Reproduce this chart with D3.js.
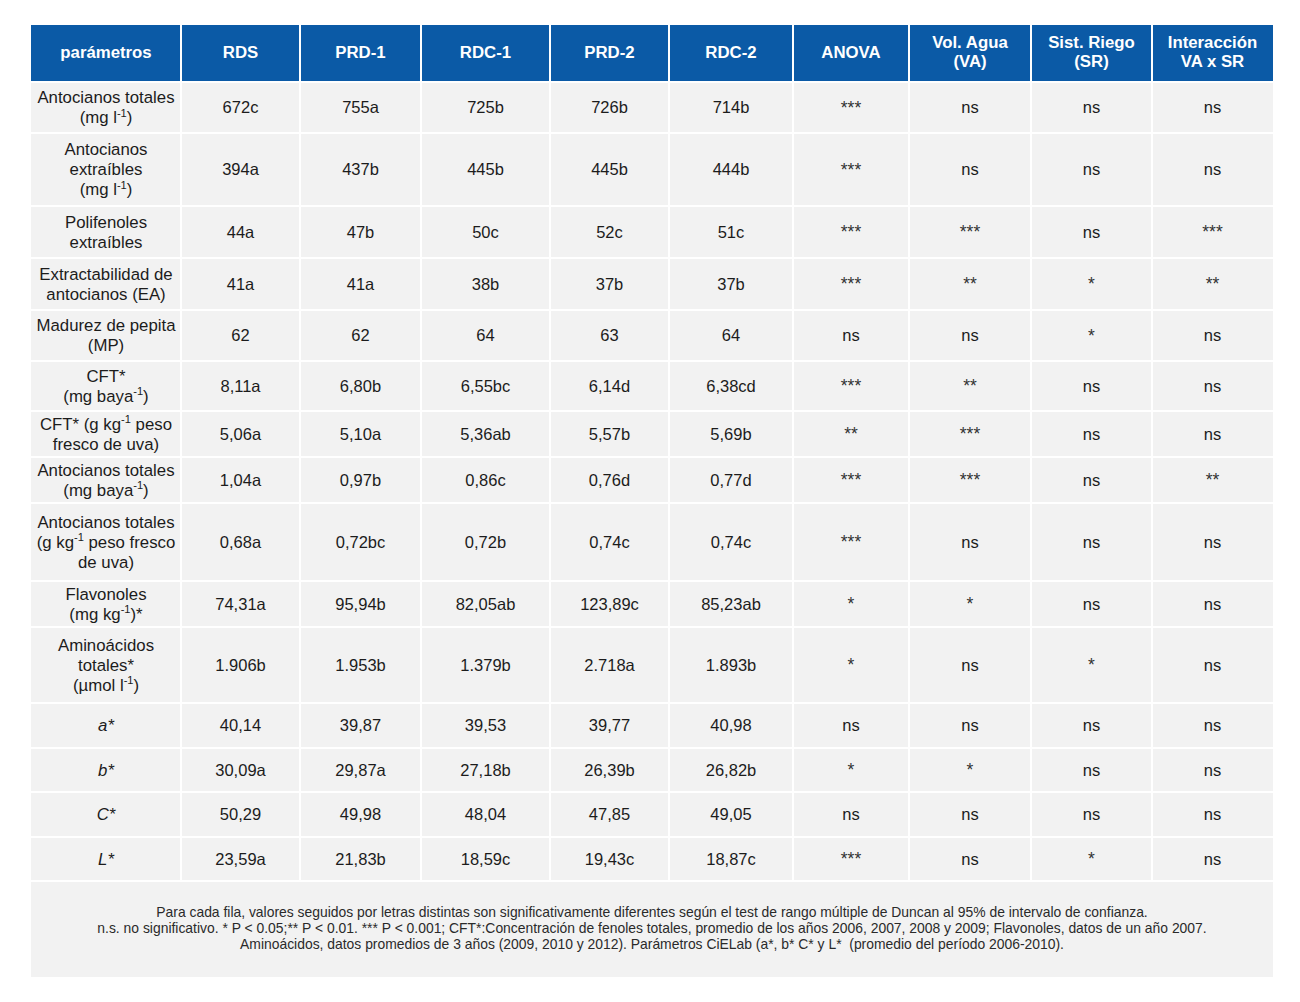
<!DOCTYPE html>
<html><head><meta charset="utf-8">
<script src="https://cdn.jsdelivr.net/npm/d3@7"></script>
<style>html,body{margin:0;padding:0;background:#fff;} text{white-space:pre;}</style>
</head><body>
<svg id="chart" width="1300" height="1002"></svg>
<script>
// ---------- DATA ----------
const headers = [["parámetros"],["RDS"],["PRD-1"],["RDC-1"],["PRD-2"],["RDC-2"],["ANOVA"],["Vol. Agua","(VA)"],["Sist. Riego","(SR)"],["Interacción","VA x SR"]];
const params = [
  ["Antocianos totales","(mg l{-1})"],
  ["Antocianos","extraíbles","(mg l{-1})"],
  ["Polifenoles","extraíbles"],
  ["Extractabilidad de","antocianos (EA)"],
  ["Madurez de pepita","(MP)"],
  ["CFT*","(mg baya{-1})"],
  ["CFT* (g kg{-1} peso","fresco de uva)"],
  ["Antocianos totales","(mg baya{-1})"],
  ["Antocianos totales","(g kg{-1} peso fresco","de uva)"],
  ["Flavonoles","(mg kg{-1})*"],
  ["Aminoácidos","totales*","(µmol l{-1})"],
  ["a*"],["b*"],["C*"],["L*"]
];
const italicParams = ["a*","b*","C*","L*"];
const RDS   = ["672c","394a","44a","41a","62","8,11a","5,06a","1,04a","0,68a","74,31a","1.906b","40,14","30,09a","50,29","23,59a"];
const PRD1  = ["755a","437b","47b","41a","62","6,80b","5,10a","0,97b","0,72bc","95,94b","1.953b","39,87","29,87a","49,98","21,83b"];
const RDC1  = ["725b","445b","50c","38b","64","6,55bc","5,36ab","0,86c","0,72b","82,05ab","1.379b","39,53","27,18b","48,04","18,59c"];
const PRD2  = ["726b","445b","52c","37b","63","6,14d","5,57b","0,76d","0,74c","123,89c","2.718a","39,77","26,39b","47,85","19,43c"];
const RDC2  = ["714b","444b","51c","37b","64","6,38cd","5,69b","0,77d","0,74c","85,23ab","1.893b","40,98","26,82b","49,05","18,87c"];
const ANOVA = ["***","***","***","***","ns","***","**","***","***","*","*","ns","*","ns","***"];
const VA    = ["ns","ns","***","**","ns","**","***","***","ns","*","ns","ns","*","ns","ns"];
const SR    = ["ns","ns","ns","*","*","ns","ns","ns","ns","ns","*","ns","ns","ns","*"];
const INT   = ["ns","ns","***","**","ns","ns","ns","**","ns","ns","ns","ns","ns","ns","ns"];
const footnote = [
  "Para cada fila, valores seguidos por letras distintas son significativamente diferentes según el test de rango múltiple de Duncan al 95% de intervalo de confianza.",
  "n.s. no significativo. * P < 0.05;** P < 0.01. *** P < 0.001; CFT*:Concentración de fenoles totales, promedio de los años 2006, 2007, 2008 y 2009; Flavonoles, datos de un año 2007.",
  "Aminoácidos, datos promedios de 3 años (2009, 2010 y 2012). Parámetros CiELab (a*, b* C* y L*  (promedio del período 2006-2010)."
];

// ---------- LAYOUT ----------
const colEdges = [31,181,300,421,550,669,793,909,1031,1152,1273];
const headerTop = 25, headerH = 57;
const rowHeights = [51,73,52,52,51,50,46,46,78,46,76,45,44,45,44];
const footH = 96;
const gap = 2;
const blue = "#0b5aa6", cellFill = "#f2f2f2", textCol = "#1c1c1c";
const FONT = "'Liberation Sans', Arial, Helvetica, sans-serif";

const columns = [params.map(p=>p), RDS, PRD1, RDC1, PRD2, RDC2, ANOVA, VA, SR, INT];

const svg = d3.select("#chart");
const x = d3.scaleOrdinal().domain(d3.range(10)).range(colEdges.slice(0,10));
const w = i => colEdges[i+1]-colEdges[i];
const rowTops = [];
let acc = headerTop + headerH;
rowHeights.forEach(h => { rowTops.push(acc); acc += h; });
const tableBottom = acc;
const y = d3.scaleOrdinal().domain(d3.range(rowHeights.length)).range(rowTops);

// write text lines with {sup} markup
function writeLines(sel, lines, cx, cy, opts) {
  const lh = opts.lh || 20;
  const n = lines.length;
  const t = sel.append("text")
    .attr("x", cx).attr("text-anchor","middle")
    .attr("font-family", FONT).attr("font-size", opts.size)
    .attr("font-weight", opts.weight || "normal")
    .attr("font-style", opts.italic ? "italic" : "normal")
    .attr("fill", opts.fill);
  lines.forEach((line, li) => {
    const baseY = cy - (n-1)*lh/2 + li*lh + (opts.base != null ? opts.base : opts.size*0.35);
    const parts = line.split(/(\{[^}]*\})/).filter(s=>s.length);
    let first = true, raised = false;
    parts.forEach(p => {
      const isSup = p.startsWith("{");
      const ts = t.append("tspan").text(isSup ? p.slice(1,-1) : p);
      if (first) { ts.attr("x", cx).attr("y", baseY); first = false; }
      if (isSup) {
        ts.attr("font-size", opts.size*0.66).attr("dy", raised ? 0 : -opts.size*0.4);
        raised = true;
      } else if (raised) {
        ts.attr("dy", opts.size*0.4); raised = false;
      }
    });
  });
}

// header
const hdr = svg.append("g");
headers.forEach((h,i) => {
  hdr.append("rect").attr("x", x(i)+ (i?1:0)).attr("y", headerTop)
    .attr("width", w(i) - (i?1:0) - (i<9?1:0)).attr("height", headerH - gap/2)
    .attr("fill", blue);
  writeLines(hdr, h, x(i)+w(i)/2, headerTop + headerH/2 - 1.5, {size:16.8, weight:"bold", fill:"#fff", lh:19});
});

// body
const body = svg.append("g");
rowHeights.forEach((rh, r) => {
  columns.forEach((col, c) => {
    body.append("rect")
      .attr("x", x(c) + (c?1:0)).attr("y", y(r) + 1)
      .attr("width", w(c) - (c?1:0) - (c<9?1:0)).attr("height", rh - gap)
      .attr("fill", cellFill);
    const v = col[r];
    const cy = y(r) + rh/2;
    if (c === 0) {
      writeLines(body, v, x(c)+w(c)/2, cy, {size:16.8, fill:textCol, italic: italicParams.includes(v[0])});
    } else if (/^\*+$/.test(v)) {
      writeLines(body, [v], x(c)+w(c)/2, cy, {size:17.5, fill:"#333", base:6});
    } else {
      writeLines(body, [v], x(c)+w(c)/2, cy, {size:16.5, fill:textCol});
    }
  });
});

// footnote
svg.append("rect").attr("x", colEdges[0]).attr("y", tableBottom + 1)
  .attr("width", colEdges[10]-colEdges[0]).attr("height", footH - 1).attr("fill", cellFill);
writeLines(svg, footnote, (colEdges[0]+colEdges[10])/2, tableBottom + 47, {size:13.9, fill:"#2a2a2a", lh:16});
</script>
</body></html>
